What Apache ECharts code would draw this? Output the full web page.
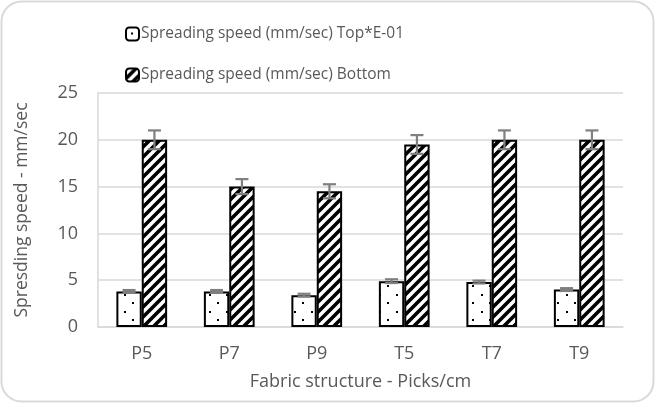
<!DOCTYPE html>
<html>
<head>
<meta charset="utf-8">
<script src="https://cdn.jsdelivr.net/npm/echarts@6/dist/echarts.min.js"></script>
<style>
html,body{margin:0;padding:0;background:#fff;}
#chart{width:656px;height:404px;}
</style>
</head>
<body>
<div id="chart"></div>
<script>
// ---- data ----
const categories = ['P5', 'P7', 'P9', 'T5', 'T7', 'T9'];
const topValues = [3.8, 3.8, 3.4, 4.9, 4.8, 4.0];
const topErrors = [0.15, 0.15, 0.15, 0.2, 0.15, 0.15];
const bottomValues = [20, 15, 14.5, 19.5, 20, 20];
const bottomErrors = [1.0, 0.8, 0.75, 1.0, 1.0, 1.0];
const seriesNames = ['Spreading speed (mm/sec) Top*E-01', 'Spreading speed (mm/sec) Bottom'];
const yTicks = [0, 5, 10, 15, 20, 25];

// ---- patterns ----
function dotPattern() {
  const c = document.createElement('canvas');
  c.width = 17; c.height = 17;
  const g = c.getContext('2d');
  g.fillStyle = '#fff'; g.fillRect(0, 0, 17, 17);
  g.fillStyle = '#000';
  g.fillRect(5, 5, 2, 2);
  g.fillRect(13, 13, 2, 2);
  return c;
}
function stripePattern() {
  const s = 10;
  const c = document.createElement('canvas');
  c.width = s; c.height = s;
  const g = c.getContext('2d');
  g.fillStyle = '#fff'; g.fillRect(0, 0, s, s);
  g.strokeStyle = '#000'; g.lineWidth = 3.6; g.lineCap = 'square';
  [[-s, 0], [0, 0], [s, 0]].forEach(function (o) {
    g.beginPath();
    g.moveTo(o[0], s + o[1]);
    g.lineTo(o[0] + s, o[1]);
    g.stroke();
  });
  return c;
}

const BAR_FRAC = 0.29;
function errRender(side) {
  return function (params, api) {
    const xi = api.value(0), v = api.value(1), e = api.value(2);
    const bw = api.size([1, 0])[0] * BAR_FRAC;
    const c = api.coord([xi, v]);
    const cx = c[0] + side * bw / 2;
    const hi = api.coord([xi, v + e])[1];
    const lo = api.coord([xi, v - e])[1];
    const cap = 6.5;
    const st = { stroke: '#7f7f7f', lineWidth: 2.2 };
    return {
      type: 'group',
      children: [
        { type: 'line', shape: { x1: cx, y1: hi, x2: cx, y2: lo }, style: st },
        { type: 'line', shape: { x1: cx - cap, y1: hi, x2: cx + cap, y2: hi }, style: st },
        { type: 'line', shape: { x1: cx - cap, y1: lo, x2: cx + cap, y2: lo }, style: st }
      ]
    };
  };
}

const textColor = '#595959';
const fontFam = '"Open Sans", sans-serif';

const chart = echarts.init(document.getElementById('chart'), null, { renderer: 'canvas' });
chart.setOption({
  backgroundColor: '#fff',
  animation: false,
  graphic: [{
    type: 'rect',
    shape: { x: 1.5, y: 1.5, width: 652, height: 400, r: 20 },
    style: { fill: 'none', stroke: '#d9d9d9', lineWidth: 2 },
    z: -10
  }],
  legend: {
    data: seriesNames,
    orient: 'vertical',
    left: 120,
    top: 21,
    itemWidth: 13,
    itemHeight: 13,
    itemGap: 25,
    textStyle: { color: textColor, fontSize: 15.5, fontFamily: fontFam, padding: [0, 0, 0, -3] },
    itemStyle: { borderColor: '#000', borderWidth: 2 }
  },
  grid: { left: 98, right: 33, top: 93, bottom: 77 },
  xAxis: {
    type: 'category',
    data: categories,
    name: 'Fabric structure - Picks/cm',
    nameLocation: 'middle',
    nameGap: 46,
    nameTextStyle: { color: textColor, fontSize: 18, fontFamily: fontFam },
    axisLine: { lineStyle: { color: '#d9d9d9', width: 1.5 } },
    axisTick: { show: false },
    axisLabel: { color: textColor, fontSize: 18, fontFamily: fontFam, margin: 18 }
  },
  yAxis: {
    type: 'value',
    min: yTicks[0],
    max: yTicks[yTicks.length - 1],
    interval: 5,
    name: 'Spresding speed - mm/sec',
    nameLocation: 'middle',
    nameGap: 67,
    nameTextStyle: { color: textColor, fontSize: 17.5, fontFamily: fontFam },
    axisLine: { show: true, lineStyle: { color: '#d9d9d9', width: 1.5 } },
    axisTick: { show: false },
    axisLabel: { color: textColor, fontSize: 18, fontFamily: fontFam, margin: 20 },
    splitLine: { lineStyle: { color: '#d9d9d9', width: 1.5 } }
  },
  series: [
    {
      name: seriesNames[0],
      type: 'bar',
      data: topValues,
      barWidth: (BAR_FRAC * 100) + '%',
      barGap: '0%',
      itemStyle: { color: { image: dotPattern(), repeat: 'repeat' }, borderColor: '#000', borderWidth: 2 }
    },
    {
      name: seriesNames[1],
      type: 'bar',
      data: bottomValues,
      barWidth: (BAR_FRAC * 100) + '%',
      barGap: '0%',
      itemStyle: { color: { image: stripePattern(), repeat: 'repeat' }, borderColor: '#000', borderWidth: 2 }
    },
    {
      type: 'custom',
      name: 'errTop',
      renderItem: errRender(-1),
      data: topValues.map(function (v, i) { return [i, v, topErrors[i]]; }),
      z: 10
    },
    {
      type: 'custom',
      name: 'errBottom',
      renderItem: errRender(1),
      data: bottomValues.map(function (v, i) { return [i, v, bottomErrors[i]]; }),
      z: 10
    }
  ]
});
</script>
</body>
</html>
